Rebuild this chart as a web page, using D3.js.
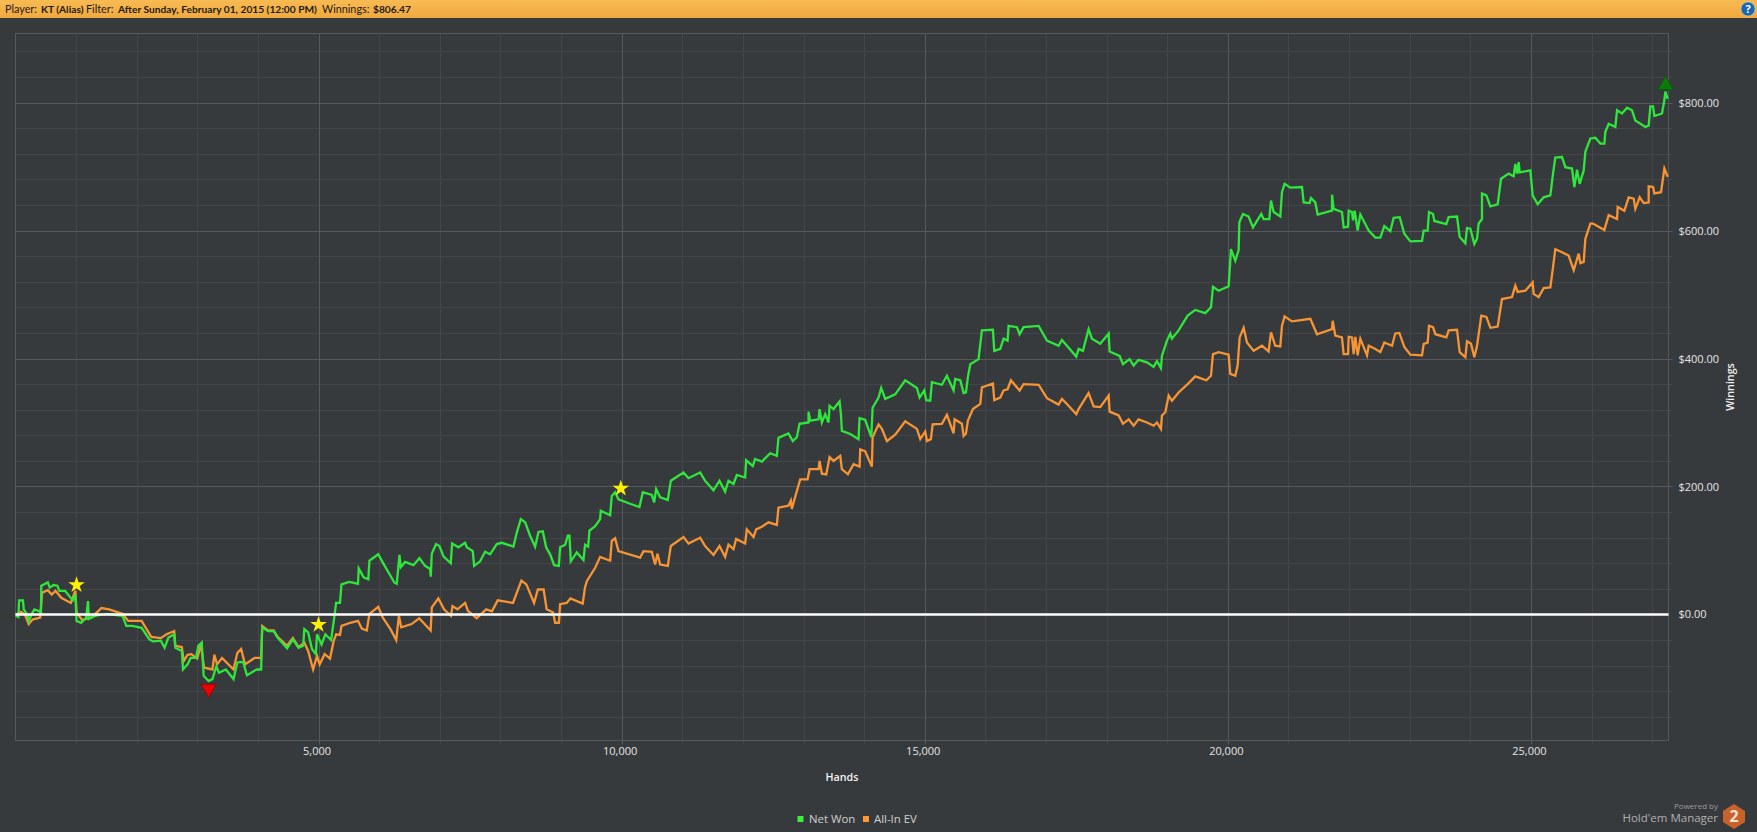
<!DOCTYPE html>
<html><head><meta charset="utf-8">
<script src="https://cdn.jsdelivr.net/npm/d3@7/dist/d3.min.js"></script>
<style>html,body{margin:0;padding:0;background:#373a3d;overflow:hidden}text{font-family:"Open Sans",sans-serif}</style>
</head><body><svg id="c" width="1757" height="832"></svg>
<script>
const headerLabels=["Player:","KT (Alias)","Filter:","After Sunday, February 01, 2015 (12:00 PM)","Winnings:","$806.47"];
const legendLabels=["Net Won","All-In EV"];
const yMajor=[0,200,400,600,800];
const yMinor=[-160,-120,-80,-40,40,80,120,160,240,280,320,360,440,480,520,560,640,680,720,760,840,880];
const xMajor=[5000,10000,15000,20000,25000];
const xMinor=[1000,2000,3000,4000,6000,7000,8000,9000,11000,12000,13000,14000,16000,17000,18000,19000,21000,22000,23000,24000,26000,27000];
const netWonPts=[[0,-2],[47,-4],[60,22],[123,22],[136,8],[199,-1],[218,-10],[281,3],[312,8],[420,4],[426,45],[533,50],[565,42],[628,46],[691,45],[723,37],[818,37],[944,22],[988,31],[1007,-10],[1083,-13],[1165,-5],[1197,21],[1209,-7],[1323,-2],[1512,1],[1765,-2],[1828,-18],[1923,-18],[2081,-21],[2207,-39],[2270,-42],[2397,-41],[2460,-52],[2523,-36],[2618,-31],[2637,-52],[2744,-57],[2763,-86],[2839,-78],[2889,-68],[2978,-68],[3016,-49],[3073,-44],[3104,-96],[3186,-104],[3249,-101],[3313,-81],[3357,-91],[3470,-86],[3597,-101],[3660,-75],[3755,-74],[3818,-95],[3976,-86],[4052,-86],[4070,-20],[4165,-26],[4260,-26],[4323,-36],[4481,-53],[4576,-39],[4670,-52],[4746,-49],[4765,-23],[4828,-28],[4891,-54],[4955,-62],[4974,-31],[5049,-47],[5112,-31],[5207,-40],[5258,-5],[5289,18],[5353,18],[5378,47],[5504,51],[5650,48],[5662,72],[5744,58],[5820,55],[5839,84],[5984,94],[6060,81],[6250,50],[6290,48],[6334,93],[6356,74],[6427,82],[6565,77],[6664,88],[6757,76],[6840,71],[6851,59],[6867,95],[6939,110],[6994,107],[7060,91],[7181,80],[7203,111],[7307,105],[7417,112],[7445,105],[7544,99],[7566,76],[7665,83],[7747,98],[7830,94],[7940,110],[8023,112],[8215,106],[8270,128],[8336,149],[8408,144],[8490,123],[8572,106],[8628,129],[8699,130],[8754,105],[8820,94],[8886,77],[8963,76],[8985,105],[9068,109],[9111,123],[9139,123],[9161,83],[9260,97],[9370,85],[9397,109],[9447,106],[9469,131],[9563,138],[9645,149],[9656,162],[9810,155],[9837,185],[9892,191],[9947,180],[10140,173],[10294,168],[10349,191],[10497,187],[10536,175],[10569,196],[10635,183],[10761,179],[10811,209],[11020,222],[11102,213],[11295,222],[11377,209],[11515,194],[11614,209],[11707,192],[11762,209],[11845,204],[11900,218],[12037,214],[12054,241],[12164,232],[12202,243],[12312,239],[12450,252],[12560,248],[12587,276],[12752,283],[12824,271],[12890,277],[12934,298],[13083,300],[13083,317],[13111,303],[13248,305],[13265,321],[13303,300],[13358,313],[13413,300],[13430,326],[13496,321],[13595,333],[13617,313],[13633,287],[13771,282],[13908,274],[13925,307],[14018,304],[14118,277],[14140,323],[14238,339],[14282,354],[14348,337],[14513,344],[14678,366],[14871,354],[14915,339],[14992,350],[15025,335],[15091,334],[15118,363],[15283,359],[15366,373],[15476,350],[15503,368],[15586,366],[15641,346],[15680,347],[15712,371],[15751,391],[15888,399],[15943,444],[16125,445],[16147,412],[16246,415],[16301,431],[16367,428],[16383,451],[16521,449],[16565,438],[16631,449],[16879,451],[17016,428],[17208,420],[17263,429],[17346,420],[17500,403],[17538,415],[17610,412],[17703,446],[17758,431],[17896,423],[18034,439],[18050,411],[18215,404],[18270,391],[18380,399],[18446,389],[18528,398],[18666,394],[18776,387],[18831,396],[18897,385],[18913,404],[18996,428],[19051,439],[19078,431],[19188,444],[19337,467],[19463,476],[19628,471],[19722,480],[19755,512],[19848,506],[20013,513],[20041,553],[20052,571],[20123,553],[20178,569],[20190,613],[20250,626],[20343,622],[20415,605],[20552,626],[20590,618],[20684,618],[20712,647],[20756,629],[20866,622],[20893,660],[20937,673],[21031,667],[21224,668],[21251,644],[21350,643],[21372,651],[21443,644],[21482,625],[21719,631],[21719,656],[21746,634],[21883,629],[21911,605],[21983,606],[21994,631],[22049,629],[22065,616],[22093,631],[22142,600],[22186,625],[22324,600],[22434,589],[22516,589],[22582,607],[22681,599],[22736,620],[22835,621],[22912,595],[23011,583],[23204,584],[23231,600],[23297,600],[23319,629],[23385,626],[23407,615],[23605,610],[23643,621],[23781,622],[23825,590],[23919,580],[23946,604],[24001,603],[24067,579],[24111,587],[24138,611],[24193,618],[24193,658],[24265,655],[24331,638],[24452,641],[24507,681],[24634,689],[24716,685],[24743,704],[24771,689],[24798,707],[24815,691],[24991,694],[25029,655],[25112,641],[25211,652],[25321,655],[25365,689],[25403,714],[25513,715],[25568,699],[25678,697],[25717,668],[25761,695],[25805,673],[25871,694],[25898,723],[25981,744],[26063,745],[26146,736],[26212,736],[26228,754],[26283,767],[26393,762],[26421,788],[26503,783],[26586,792],[26668,788],[26723,772],[26888,762],[26943,764],[26971,794],[27015,794],[27037,779],[27163,783],[27202,804],[27218,817],[27257,806]];
const allInEvPts=[[0,-1],[91,4],[155,0],[218,-15],[281,-8],[407,-5],[439,34],[533,38],[597,31],[660,37],[754,26],[912,18],[988,37],[1007,3],[1102,-9],[1260,-4],[1418,10],[1544,8],[1765,1],[1860,-10],[2081,-10],[2239,-35],[2397,-37],[2491,-31],[2618,-26],[2637,-49],[2744,-51],[2776,-73],[2839,-63],[2902,-62],[2997,-69],[3060,-47],[3110,-83],[3249,-86],[3281,-63],[3325,-78],[3407,-68],[3597,-86],[3660,-60],[3723,-54],[3786,-78],[3944,-68],[4052,-68],[4070,-18],[4165,-25],[4260,-25],[4323,-35],[4481,-49],[4576,-37],[4670,-51],[4765,-44],[4828,-57],[4910,-86],[4974,-65],[5018,-78],[5100,-62],[5188,-69],[5251,-41],[5289,-31],[5353,-32],[5378,-18],[5523,-13],[5650,-10],[5713,-22],[5795,-25],[5839,1],[5984,12],[6060,-5],[6186,-23],[6281,-40],[6325,-2],[6363,-20],[6534,-15],[6660,-6],[6849,-25],[6868,11],[6976,25],[7070,8],[7184,-2],[7209,13],[7291,8],[7418,18],[7462,6],[7607,-6],[7765,8],[7860,5],[7955,22],[8207,18],[8346,53],[8428,47],[8555,18],[8618,39],[8713,39],[8763,8],[8870,3],[8902,-13],[8965,-13],[8984,16],[9092,18],[9155,25],[9357,17],[9395,42],[9425,52],[9563,73],[9645,90],[9810,84],[9837,115],[9892,119],[9947,99],[10305,89],[10360,99],[10497,98],[10552,78],[10591,95],[10635,78],[10761,76],[10811,107],[11020,121],[11102,111],[11295,120],[11377,107],[11515,93],[11614,107],[11707,90],[11762,109],[11845,102],[11889,118],[12037,111],[12065,133],[12175,121],[12219,133],[12312,137],[12422,144],[12560,140],[12587,167],[12752,170],[12791,178],[12807,165],[12890,193],[12946,211],[13067,211],[13100,227],[13248,227],[13265,240],[13303,220],[13375,219],[13430,246],[13496,240],[13606,248],[13633,227],[13732,219],[13826,235],[13925,231],[13936,258],[14018,255],[14128,231],[14140,277],[14238,297],[14293,290],[14376,271],[14513,281],[14678,302],[14871,290],[14926,274],[15008,286],[15036,271],[15102,274],[15130,297],[15283,298],[15366,312],[15476,283],[15493,305],[15613,298],[15641,279],[15680,283],[15712,303],[15795,321],[15916,329],[15943,355],[16125,361],[16147,335],[16246,339],[16301,350],[16367,352],[16422,366],[16565,350],[16631,360],[16879,359],[17016,338],[17208,328],[17263,337],[17346,329],[17500,313],[17538,321],[17703,346],[17786,325],[17896,324],[18034,342],[18050,317],[18199,311],[18270,298],[18364,305],[18446,295],[18528,305],[18666,300],[18776,295],[18831,300],[18897,290],[18913,311],[18969,316],[19024,342],[19078,334],[19188,347],[19337,360],[19463,372],[19645,366],[19722,373],[19755,407],[19848,410],[20013,406],[20041,376],[20123,373],[20162,389],[20195,433],[20261,448],[20316,425],[20426,412],[20563,420],[20673,411],[20712,441],[20783,420],[20866,419],[20893,451],[20937,466],[21058,458],[21361,462],[21471,438],[21719,446],[21730,459],[21773,436],[21883,433],[21911,407],[21983,407],[21994,434],[22049,433],[22076,407],[22104,434],[22142,405],[22186,431],[22296,405],[22324,420],[22434,415],[22516,410],[22582,425],[22709,420],[22763,439],[22829,440],[22912,418],[23011,406],[23204,405],[23231,423],[23297,425],[23319,451],[23385,449],[23424,438],[23605,433],[23643,444],[23781,445],[23825,410],[23919,402],[23946,427],[24012,423],[24067,402],[24111,420],[24182,467],[24265,465],[24331,448],[24452,450],[24523,493],[24688,496],[24743,514],[24782,504],[24908,506],[25029,519],[25046,501],[25128,496],[25211,510],[25321,511],[25365,543],[25403,571],[25513,566],[25623,561],[25706,538],[25788,564],[25816,549],[25871,551],[25898,587],[25981,611],[26025,611],[26212,601],[26283,624],[26421,618],[26432,637],[26542,631],[26613,652],[26696,650],[26723,634],[26795,652],[26861,643],[26943,644],[26943,669],[27015,668],[27037,658],[27147,660],[27202,697],[27257,684]];
const stars=[[1007,46],[4999,-16],[9986,197]];
const lowMark=[3186,-116];
const highMark=[27222,827];

const W=1757,H=832,L=15.5,R=1668.5,T=33.5,B=740.5;
const x=d3.scaleLinear().domain([0,27270]).range([L,R]);
const y=d3.scaleLinear().domain([-197,908]).range([B,T]);
const svg=d3.select("#c");
const defs=svg.append("defs");
const hg=defs.append("linearGradient").attr("id","hg").attr("x1",0).attr("x2",0).attr("y1",0).attr("y2",1);
hg.append("stop").attr("offset",0).attr("stop-color","#f8ba52");
hg.append("stop").attr("offset",1).attr("stop-color","#f0a941");
svg.append("rect").attr("width",W).attr("height",H).attr("fill","#373a3d");
svg.append("rect").attr("width",W).attr("height",18).attr("fill","url(#hg)");
const headerX=[5,41,86,118,322,373];
svg.selectAll(".h").data(headerLabels).join("text").attr("x",(d,i)=>headerX[i]).attr("y",13)
  .attr("font-size",(d,i)=>i%2?10.2:10.8).attr("font-weight",(d,i)=>i%2?700:400)
  .attr("fill","#1c1a14").style("font-family","Lato,sans-serif").text(d=>d);
const help=svg.append("g").attr("transform","translate(1748,9)");
help.append("circle").attr("r",7).attr("fill","#1c65ad").attr("stroke","#b8cfe0").attr("stroke-width",0.6);
help.append("text").attr("text-anchor","middle").attr("y",4).attr("font-size",11).attr("font-weight",700).attr("fill","#fff").text("?");

const minorC="#434649",majorC="#56595c";
svg.append("g").selectAll("line").data(xMinor).join("line").attr("x1",d=>Math.round(x(d))+.5).attr("x2",d=>Math.round(x(d))+.5).attr("y1",T).attr("y2",B+4).attr("stroke",minorC);
svg.append("g").selectAll("line").data(yMinor).join("line").attr("y1",d=>Math.round(y(d))+.5).attr("y2",d=>Math.round(y(d))+.5).attr("x1",L).attr("x2",R+4).attr("stroke",minorC);
svg.append("g").selectAll("line").data(xMajor).join("line").attr("x1",d=>Math.round(x(d))+.5).attr("x2",d=>Math.round(x(d))+.5).attr("y1",T).attr("y2",B+4).attr("stroke",majorC);
svg.append("g").selectAll("line").data(yMajor.filter(d=>d!==0)).join("line").attr("y1",d=>Math.round(y(d))+.5).attr("y2",d=>Math.round(y(d))+.5).attr("x1",L).attr("x2",R+4).attr("stroke",majorC);
svg.append("rect").attr("x",L).attr("y",T).attr("width",R-L).attr("height",B-T).attr("fill","none").attr("stroke",majorC);

const ax=svg.append("g").attr("transform",`translate(0,${B})`).call(d3.axisBottom(x).tickValues(xMajor).tickSize(0).tickPadding(7).tickFormat(d3.format(",")));
ax.select(".domain").remove();
ax.selectAll("text").attr("font-size",11).attr("fill","#e4e4e4").attr("dx",-2);
const ay=svg.append("g").attr("transform",`translate(${R},0)`).call(d3.axisRight(y).tickValues(yMajor).tickSize(0).tickPadding(10).tickFormat(d=>"$"+d3.format(".2f")(d)));
ay.select(".domain").remove();
ay.selectAll("text").attr("font-size",11).attr("fill","#e4e4e4");

svg.append("text").attr("x",842).attr("y",781).attr("text-anchor","middle").attr("font-size",10.7).attr("font-weight",600).attr("fill","#f0f0f0").text("Hands");
svg.append("text").attr("transform","translate(1734,387) rotate(-90)").attr("text-anchor","middle").attr("font-size",10.7).attr("font-weight",600).attr("fill","#f0f0f0").text("Winnings");

const line=d3.line().x(d=>x(d[0])).y(d=>y(d[1]));
svg.append("path").datum(allInEvPts).attr("d",line).attr("fill","none").attr("stroke","#f79434").attr("stroke-width",2.3);
svg.append("path").datum(netWonPts).attr("d",line).attr("fill","none").attr("stroke","#2ee63c").attr("stroke-width",2.3);
svg.append("line").attr("x1",L).attr("x2",R).attr("y1",y(0)).attr("y2",y(0)).attr("stroke","#fff").attr("stroke-width",2.4);

const sym=d3.symbol().type(d3.symbolStar).size(85);
svg.selectAll(".s").data(stars).join("path").attr("d",sym).attr("transform",d=>`translate(${x(d[0])},${y(d[1])})`).attr("fill","#fff200");
const tri=d3.symbol().type(d3.symbolTriangle).size(105);
svg.append("path").attr("d",tri).attr("transform",`translate(${x(lowMark[0])},${y(lowMark[1])}) rotate(180)`).attr("fill","#ee0000").attr("stroke","#7c1010");
svg.append("path").attr("d",tri).attr("transform",`translate(${x(highMark[0])},${y(highMark[1])})`).attr("fill","#0a7a0a").attr("stroke","#0a5a0a");

const legendColors=["#3cf03c","#ff9933"],legendSwatchX=[800.5,866],legendTextX=[809,874];
legendLabels.forEach((d,i)=>{
 svg.append("rect").attr("x",legendSwatchX[i]-3).attr("y",816).attr("width",6).attr("height",6).attr("fill",legendColors[i]);
 svg.append("text").attr("x",legendTextX[i]).attr("y",823).attr("font-size",11.4).attr("fill","#d0d0d0").text(d);
});
svg.append("text").attr("x",1718).attr("y",809).attr("text-anchor","end").attr("font-size",8).attr("fill","#9a9a9a").text("Powered by");
svg.append("text").attr("x",1718).attr("y",822).attr("text-anchor","end").attr("font-size",11.5).attr("fill","#b0b0b0").text("Hold'em Manager");
const hex=d3.line()([[1734,804],[1745,811],[1745,822],[1734,829],[1723,822],[1723,811]])+"Z";
svg.append("path").attr("d",hex).attr("fill","#c8612a");
svg.append("text").attr("x",1734).attr("y",822).attr("text-anchor","middle").attr("font-size",16).attr("font-weight",700).attr("fill","#f3e2d6").text("2");
</script></body></html>
